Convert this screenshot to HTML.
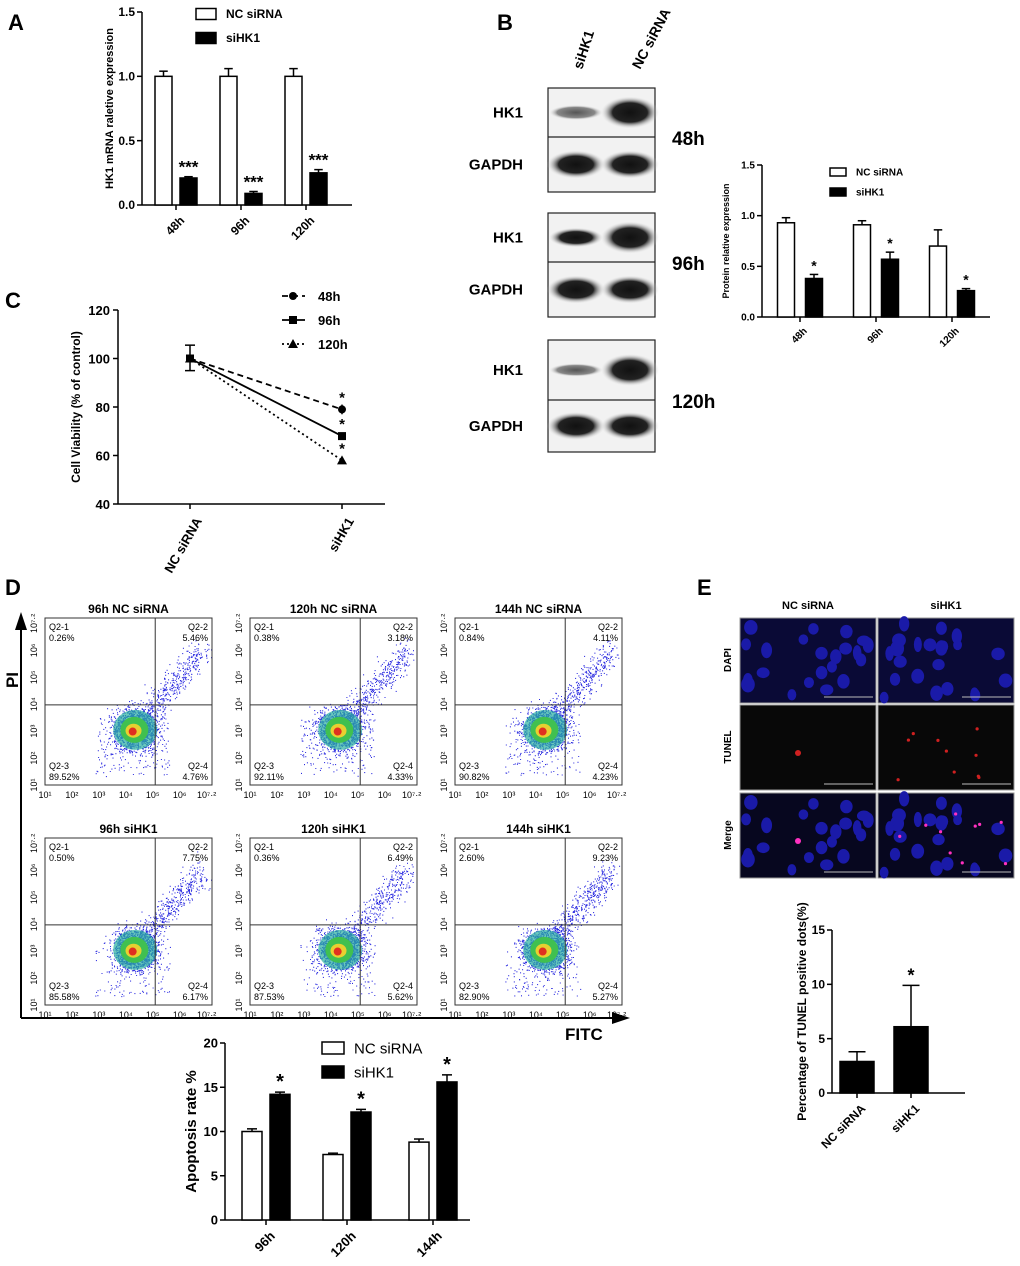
<!DOCTYPE html>
<html><head><meta charset="utf-8">
<style>
body{margin:0;background:#fff;font-family:"Liberation Sans",sans-serif;}
svg text{font-family:"Liberation Sans",sans-serif;}
</style></head>
<body>
<svg id="fig" width="1020" height="1261" viewBox="0 0 1020 1261" xmlns="http://www.w3.org/2000/svg">
<defs>
<radialGradient id="bandg"><stop offset="0" stop-color="#111"/><stop offset="0.6" stop-color="#222"/><stop offset="1" stop-color="#ddd" stop-opacity="0"/></radialGradient>
<radialGradient id="bandw"><stop offset="0" stop-color="#555"/><stop offset="0.7" stop-color="#888"/><stop offset="1" stop-color="#eee" stop-opacity="0"/></radialGradient>
</defs>
<g id="root"></g>
</svg>
<script>
// ---- data ----
const catA=["48h","96h","120h"];
const ncA=[1.0,1.0,1.0], ncAerr=[0.04,0.06,0.06];
const siA=[0.21,0.09,0.25], siAerr=[0.01,0.015,0.025];
const catB=["48h","96h","120h"];
const ncB=[0.93,0.91,0.70], ncBerr=[0.05,0.04,0.16];
const siB=[0.38,0.57,0.26], siBerr=[0.04,0.07,0.02];
const catC=["NC siRNA","siHK1"];
const c48=[100,79], c96=[100,68], c120=[100,58];
const catD=["96h","120h","144h"];
const ncD=[10.0,7.4,8.8], ncDerr=[0.3,0.15,0.35];
const siD=[14.2,12.2,15.6], siDerr=[0.25,0.3,0.8];
const catE=["NC siRNA","siHK1"];
const valE=[2.9,6.1], errE=[0.9,3.8], starE=["","*"];
const flowTitles=["96h NC siRNA","120h NC siRNA","144h NC siRNA","96h siHK1","120h siHK1","144h siHK1"];
const q1=["0.26%","0.38%","0.84%","0.50%","0.36%","2.60%"];
const q2=["5.46%","3.18%","4.11%","7.75%","6.49%","9.23%"];
const q3=["89.52%","92.11%","90.82%","85.58%","87.53%","82.90%"];
const q4=["4.76%","4.33%","4.23%","6.17%","5.62%","5.27%"];

const NS="http://www.w3.org/2000/svg";
const root=document.getElementById('root');
function el(tag,attrs,parent,txt){const e=document.createElementNS(NS,tag);for(const k in attrs)e.setAttribute(k,attrs[k]);if(txt!==undefined)e.textContent=txt;(parent||root).appendChild(e);return e;}
function T(x,y,s,size,opt){opt=opt||{};const e=el('text',{x:x,y:y,'font-size':size,'font-weight':opt.w||'bold','text-anchor':opt.a||'start',fill:opt.fill||'#000'},opt.p,s);if(opt.rot)e.setAttribute('transform','rotate('+opt.rot+' '+x+' '+y+')');return e;}

[["A",8,30],["B",497,30],["C",5,308],["D",5,595],["E",697,595]].forEach(l=>{const t=T(l[1],l[2],l[0],22);});

function barChart(o){
  const g=el('g',{});
  
  
  const y=v=>o.y0-(v-o.min)/(o.max-o.min)*(o.y0-o.y1);
  el('line',{x1:o.x0,y1:o.y1,x2:o.x0,y2:o.y0,stroke:'#000','stroke-width':1.5},g);
  el('line',{x1:o.x0,y1:o.y0,x2:o.x2,y2:o.y0,stroke:'#000','stroke-width':1.5},g);
  o.ticks.forEach(t=>{el('line',{x1:o.x0-5,y1:y(t),x2:o.x0,y2:y(t),stroke:'#000','stroke-width':1.5},g);
    T(o.x0-7,y(t)+o.fs*0.35,o.tickFmt(t),o.fs,{a:'end',p:g});});
  o.cats.forEach((c,i)=>{
    const cx=o.cx[i];
    el('line',{x1:cx,y1:o.y0,x2:cx,y2:o.y0+5,stroke:'#000','stroke-width':1.5},g);
    T(cx+3,o.y0+10,c,o.fs,{a:'end',rot:-45,p:g}).setAttribute('dominant-baseline','hanging');
    o.series.forEach((s,j)=>{
      const bx=cx+(j===0?-o.bw-o.gap/2:o.gap/2)+(o.off||0);
      const v=s.v[i], e=s.e[i];
      el('line',{x1:bx+o.bw/2,y1:y(v),x2:bx+o.bw/2,y2:y(v+e),stroke:'#000','stroke-width':1.5},g);
      el('line',{x1:bx+o.bw/2-o.bw*0.25,y1:y(v+e),x2:bx+o.bw/2+o.bw*0.25,y2:y(v+e),stroke:'#000','stroke-width':1.5},g);
      const r=el('rect',{x:bx,y:y(v),width:o.bw,height:o.y0-y(v),fill:s.fill,stroke:'#000','stroke-width':1.5},g);
      
      
      const st=s.stars?s.stars[i]:s.star;
      if(st) T(bx+o.bw/2,y(v+e)-4,st,o.starFs||o.fs+4,{a:'middle',p:g});
    });
  });
  T(o.ytx,(o.y0+o.y1)/2,o.ytitle,o.yfs||o.fs,{a:'middle',rot:-90,p:g});
  if(o.legend){o.legend.forEach((l,k)=>{
    const ly=o.legend.y+k*o.legend.dy;
    el('rect',{x:o.legend.x,y:ly-o.legend.h/2,width:o.legend.w,height:o.legend.h,fill:l.fill,stroke:'#000','stroke-width':1.5},g);
    T(o.legend.x+o.legend.w+10,ly+o.legend.fs*0.35,l.t,o.legend.fs,{p:g,w:o.legend.w2||'bold'});});}
  return g;
}

// Panel A
(function(){const L=[{t:"NC siRNA",fill:'#fff'},{t:"siHK1",fill:'#000'}];L.x=196;L.y=14;L.dy=24;L.w=20;L.h=11;L.fs=12;
barChart({name:'panel-a-mrna-chart',x0:142,x2:352,y0:205,y1:12,min:0,max:1.5,ticks:[0,0.5,1.0,1.5],tickFmt:t=>t.toFixed(1),fs:12,
cats:catA,cx:[176,241,306],bw:17,gap:8,ytx:113,ytitle:"HK1 mRNA raletive expression",yfs:11,legend:L,starFs:17,
series:[{key:'nc',v:ncA,e:ncAerr,fill:'#fff'},{key:'sihk1',v:siA,e:siAerr,fill:'#000',star:'***'}]});})();

// Panel B blots
(function(){
  const g=el('g',{});
  T(582,70,"siHK1",14,{rot:-72,p:g});T(640,70,"NC siRNA",14,{rot:-62,p:g});
  const boxes=[[88,137,192,"48h",[0.5,1]],[213,262,317,"96h",[0.75,1]],[340,400,452,"120h",[0.4,1]]];
  boxes.forEach(b=>{
    el('rect',{x:548,y:b[0],width:107,height:b[2]-b[0],fill:'#f2f2f2',stroke:'#222','stroke-width':1.2},g);
    el('line',{x1:548,y1:b[1],x2:655,y2:b[1],stroke:'#222','stroke-width':1.2},g);
    const hy=(b[0]+b[1])/2, gy=(b[1]+b[2])/2;
    el('ellipse',{cx:576,cy:hy,rx:27,ry:9*b[4][0]+3,fill:b[4][0]>0.6?'url(#bandg)':'url(#bandw)'},g);
    el('ellipse',{cx:630,cy:hy,rx:29,ry:16,fill:'url(#bandg)'},g);
    el('ellipse',{cx:576,cy:gy,rx:29,ry:14,fill:'url(#bandg)'},g);
    el('ellipse',{cx:630,cy:gy,rx:29,ry:14,fill:'url(#bandg)'},g);
    T(523,hy+5,"HK1",15,{a:'end',p:g});T(523,gy+5,"GAPDH",15,{a:'end',p:g});
    T(672,b[1]+8,b[3],19,{p:g});
  });
})();
// Panel B chart
(function(){const L=[{t:"NC siRNA",fill:'#fff'},{t:"siHK1",fill:'#000'}];L.x=830;L.y=172;L.dy=20;L.w=16;L.h=8;L.fs=10;
barChart({name:'panel-b-protein-chart',x0:762,x2:990,y0:317,y1:165,min:0,max:1.5,ticks:[0,0.5,1.0,1.5],tickFmt:t=>t.toFixed(1),fs:10,
cats:catB,cx:[800,876,952],bw:17,gap:11,ytx:729,ytitle:"Protein relative expression",yfs:9,legend:L,starFs:14,
series:[{key:'nc',v:ncB,e:ncBerr,fill:'#fff'},{key:'sihk1',v:siB,e:siBerr,fill:'#000',star:'*'}]});})();

// Panel C line chart
(function(){
  const g=el('g',{});
  const x0=118,y0=504,y1=310,min=40,max=120;
  const y=v=>y0-(v-min)/(max-min)*(y0-y1);
  const xs=[190,342];
  el('line',{x1:x0,y1:y1,x2:x0,y2:y0,stroke:'#000','stroke-width':1.5},g);
  el('line',{x1:x0,y1:y0,x2:385,y2:y0,stroke:'#000','stroke-width':1.5},g);
  [40,60,80,100,120].forEach(t=>{el('line',{x1:x0-5,y1:y(t),x2:x0,y2:y(t),stroke:'#000','stroke-width':1.5},g);T(x0-8,y(t)+5,String(t),13,{a:'end',p:g});});
  catC.forEach((c,i)=>{el('line',{x1:xs[i],y1:y0,x2:xs[i],y2:y0+5,stroke:'#000','stroke-width':1.5},g);
    T(xs[i]+4,y0+12,c,13,{a:'end',rot:-60,p:g}).setAttribute('dominant-baseline','hanging');});
  T(80,407,"Cell Viability (% of control)",12,{a:'middle',rot:-90,p:g});
  const ser=[{k:'48h',v:c48,d:'6,4',m:'c'},{k:'96h',v:c96,d:'',m:'s'},{k:'120h',v:c120,d:'2,3',m:'t'}];
  function mark(m,x,yy,par){if(m==='c')el('circle',{cx:x,cy:yy,r:4,fill:'#000'},par);else if(m==='s')el('rect',{x:x-4,y:yy-4,width:8,height:8,fill:'#000'},par);else el('polygon',{points:(x)+','+(yy-5)+' '+(x-5)+','+(yy+4)+' '+(x+5)+','+(yy+4),fill:'#000'},par);}
  ser.forEach((s,k)=>{
    const p=el('polyline',{points:xs.map((x,i)=>x+','+y(s.v[i])).join(' '),fill:'none',stroke:'#000','stroke-width':1.8,'stroke-dasharray':s.d},g);
    
    xs.forEach((x,i)=>mark(s.m,x,y(s.v[i]),g));
    T(xs[1],y(s.v[1])-7,"*",15,{a:'middle',p:g});
    const ly=296+k*24;
    el('line',{x1:282,y1:ly,x2:305,y2:ly,stroke:'#000','stroke-width':1.8,'stroke-dasharray':s.d},g);mark(s.m,293,ly,g);
    T(318,ly+5,s.k,13,{p:g});
  });
  el('line',{x1:190,y1:y(95),x2:190,y2:y(105.5),stroke:'#000','stroke-width':1.5},g);
  el('line',{x1:185,y1:y(105.5),x2:195,y2:y(105.5),stroke:'#000','stroke-width':1.5},g);
  el('line',{x1:185,y1:y(95),x2:195,y2:y(95),stroke:'#000','stroke-width':1.5},g);
  el('line',{x1:342,y1:y(77),x2:342,y2:y(81),stroke:'#000','stroke-width':1.5},g);
})();

// Panel D flow plots
let seed=7;function rnd(){seed=(seed*16807)%2147483647;return seed/2147483647;}
function gauss(){return (rnd()+rnd()+rnd()+rnd()-2)/2*1.7;}
(function(){
  const xsL=[45,250,455], ysT=[618,838];
  flowTitles.forEach((t,i)=>{
    const bx=xsL[i%3], by=ysT[Math.floor(i/3)], w=167, h=167;
    const g=el('g',{});
    T(bx+w/2,by-5,t,12,{a:'middle',p:g});
    const qx=bx+w*0.66, qy=by+h*0.52;
    const n=2200;let pts='';
    for(let k=0;k<n;k++){let x,y;
      const r=rnd();
      if(r<0.72){x=bx+w*0.54+gauss()*22;y=by+h*0.67+gauss()*20;}
      else if(r<0.92){const s=rnd();x=bx+w*(0.58+s*0.36)+gauss()*12;y=by+h*(0.62-s*0.42)+gauss()*14;}
      else{x=bx+w*(0.3+rnd()*0.45);y=by+h*(0.6+rnd()*0.35);}
      x=Math.min(bx+w-1,Math.max(bx+1,x));y=Math.min(by+h-1,Math.max(by+1,y));
      pts+='M'+x.toFixed(1)+' '+y.toFixed(1)+'h1';}
    el('path',{d:pts,stroke:'#2a2ae0','stroke-width':1.1,fill:'none'},g);
    el('ellipse',{cx:bx+w*0.54,cy:by+h*0.67,rx:22,ry:20,fill:'#2ab0a0',opacity:0.7},g);
    el('ellipse',{cx:bx+w*0.535,cy:by+h*0.67,rx:14,ry:13,fill:'#40c050'},g);
    el('ellipse',{cx:bx+w*0.53,cy:by+h*0.675,rx:8,ry:7,fill:'#e8d030'},g);
    el('ellipse',{cx:bx+w*0.525,cy:by+h*0.68,rx:4,ry:4,fill:'#e03020'},g);
    el('rect',{x:bx,y:by,width:w,height:h,fill:'none',stroke:'#333','stroke-width':1},g);
    el('line',{x1:qx,y1:by,x2:qx,y2:by+h,stroke:'#333','stroke-width':1},g);
    el('line',{x1:bx,y1:qy,x2:bx+w,y2:qy,stroke:'#333','stroke-width':1},g);
    T(bx+4,by+12,"Q2-1",9,{w:'normal',p:g});T(bx+4,by+23,q1[i],9,{w:'normal',p:g});
    T(bx+w-4,by+12,"Q2-2",9,{w:'normal',a:'end',p:g});T(bx+w-4,by+23,q2[i],9,{w:'normal',a:'end',p:g});
    T(bx+4,by+h-16,"Q2-3",9,{w:'normal',p:g});T(bx+4,by+h-5,q3[i],9,{w:'normal',p:g});
    T(bx+w-4,by+h-16,"Q2-4",9,{w:'normal',a:'end',p:g});T(bx+w-4,by+h-5,q4[i],9,{w:'normal',a:'end',p:g});
    const labs=["10¹","10²","10³","10⁴","10⁵","10⁶","10⁷·²"];
    labs.forEach((l,k)=>{const tx=bx+k*w/6.2;T(tx,by+h+13,l,9,{w:'normal',a:'middle',p:g});
      const ty=by+h-k*h/6.2;T(bx-8,ty,l,9,{w:'normal',a:'middle',rot:-90,p:g});});
  });
  const g=el('g',{});
  el('line',{x1:21,y1:1018,x2:21,y2:628,stroke:'#000','stroke-width':2},g);
  el('polygon',{points:'15,630 27,630 21,612',fill:'#000'},g);
  el('line',{x1:21,y1:1018,x2:615,y2:1018,stroke:'#000','stroke-width':2},g);
  el('polygon',{points:'612,1012 612,1024 630,1018',fill:'#000'},g);
  T(18,680,"PI",17,{rot:-90,a:'middle',p:g});
  T(565,1040,"FITC",17,{p:g});
})();

// Panel D apoptosis chart
(function(){const L=[{t:"NC siRNA",fill:'#fff'},{t:"siHK1",fill:'#000'}];L.x=322;L.y=1048;L.dy=24;L.w=22;L.h=12;L.fs=15;L.w2='normal';
barChart({name:'panel-d-apoptosis-chart',x0:225,x2:470,y0:1220,y1:1043,min:0,max:20,ticks:[0,5,10,15,20],tickFmt:t=>String(t),fs:13,
cats:catD,cx:[266,347,433],bw:20,gap:8,ytx:196,ytitle:"Apoptosis rate %",yfs:15,legend:L,starFs:20,
series:[{key:'nc',v:ncD,e:ncDerr,fill:'#fff'},{key:'sihk1',v:siD,e:siDerr,fill:'#000',star:'*'}]});})();

// Panel E images
(function(){
  const g=el('g',{});
  T(808,609,"NC siRNA",11,{a:'middle',p:g});T(946,609,"siHK1",11,{a:'middle',p:g});
  const rows=[[618,"DAPI","#0a0a36"],[705,"TUNEL","#080808"],[793,"Merge","#07071f"]];
  rows.forEach((r,ri)=>{
    T(731,r[0]+42,r[1],10,{a:'middle',rot:-90,p:g});
    [740,878].forEach((x,ci)=>{
      el('rect',{x:x,y:r[0],width:136,height:85,fill:r[2],stroke:'#999','stroke-width':1},g);
      seed=101+ci*13;
      if(ri!==1){for(let k=0;k<22;k++){el('ellipse',{cx:x+6+rnd()*124,cy:r[0]+5+rnd()*75,rx:4+rnd()*3,ry:5+rnd()*3,fill:'#1a1aa8'},g);}}
      if(ri>0){const nd=ci?10:1;for(let k=0;k<nd;k++){el('circle',{cx:x+(ci?20+rnd()*110:58),cy:r[0]+(ci?10+rnd()*65:48),r:ci?1.6:3,fill:ri===2?'#ff30c0':'#d02020'},g);}}
      el('line',{x1:x+84,y1:r[0]+79,x2:x+133,y2:r[0]+79,stroke:'#bbb','stroke-width':1},g);
    });
  });
})();
// Panel E chart
barChart({name:'panel-e-tunel-chart',x0:832,x2:965,y0:1093,y1:930,min:0,max:15,ticks:[0,5,10,15],tickFmt:t=>String(t),fs:12,
  cats:catE,cx:[857,911],bw:34,gap:0,off:17,ytx:806,ytitle:"Percentage of TUNEL positive dots(%)",yfs:12,starFs:18,
  series:[{key:'value',v:valE,e:errE,fill:'#000',stars:starE}]});
</script>
</body></html>
